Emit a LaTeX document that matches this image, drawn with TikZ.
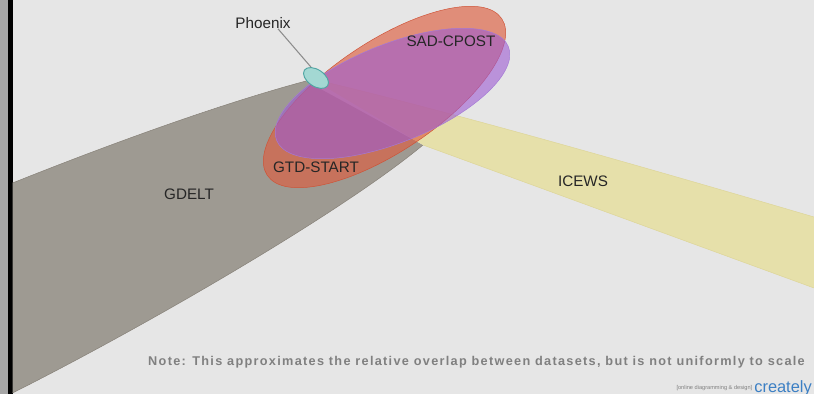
\documentclass[tikz,border=0pt]{standalone}
\usepackage{fontspec}
\setmainfont{Liberation Sans}
\usepackage{xcolor}
\usepackage{tikz}
\usetikzlibrary{shapes.geometric}

\definecolor{bgcol}{HTML}{E6E6E6}
\definecolor{gdeltcol}{HTML}{9E9A92}
\definecolor{gdeltline}{HTML}{857F76}
\definecolor{icewscol}{HTML}{E6E0AA}
\definecolor{icewsline}{HTML}{DDD597}
\definecolor{gtdcol}{HTML}{DD5E40}
\definecolor{gtdline}{HTML}{CF5236}
\definecolor{sadcol}{HTML}{9D5BD2}
\definecolor{sadline}{HTML}{A47AD6}
\definecolor{phxcol}{HTML}{A3D8D3}
\definecolor{phxline}{HTML}{4FA5A3}
\definecolor{notecol}{HTML}{808080}
\definecolor{crtcol}{HTML}{3B7FC4}

\tikzset{
  setlabel/.style={font=\fontsize{13}{15}\selectfont, text=black!85, inner sep=0pt},
}

\begin{document}
\begin{tikzpicture}[x=0.03cm,y=0.03cm]
\useasboundingbox (0,0) rectangle (814,394);
\fill[bgcol] (0,0) rectangle (814,394);
\fill[black!35] (0,0) rectangle (8,394);
\fill[black] (8,0) rectangle (12.5,394);

% GDELT
\fill[gdeltcol] (12.5,211) .. controls (110,250) and (220,290) .. (306,313)
  -- (423,249) .. controls (340,180) and (140,65) .. (12.5,1) -- cycle;
\draw[gdeltline] (12.5,211) .. controls (110,250) and (220,290) .. (306,313);
\draw[gdeltline] (423,249) .. controls (340,180) and (140,65) .. (12.5,1);

% ICEWS
\fill[icewscol] (312,315) .. controls (420,290) and (600,240) .. (814,177)
  -- (814,106) -- (423,249) -- cycle;
\draw[icewsline] (312,315) .. controls (420,290) and (600,240) .. (814,177);
\draw[icewsline] (814,106) -- (423,249);

% GTD-START and SAD-CPOST
\draw[gtdline, fill=gtdcol, fill opacity=0.65] (384.5,297) ellipse [x radius=141, y radius=55, rotate=33.75];
\draw[sadline, fill=sadcol, fill opacity=0.6] (392.5,300.5) ellipse [x radius=125, y radius=49, rotate=22];

% Phoenix
\node[ellipse, draw=phxline, fill=phxcol, line width=0.8pt, inner sep=0pt,
  minimum width=0.84cm, minimum height=0.5cm, rotate=-34] (phx) at (316,316) {};

\node[setlabel] (lblphoenix) at (263,371) {Phoenix};
\draw[black!45, line width=0.9pt] ([xshift=0.45cm]lblphoenix.south) -- (phx.north west);

\node[setlabel] (lblsad) at (451,353) {SAD-CPOST};
\node[setlabel] (lblgtd) at (316,227) {GTD-START};
\node[setlabel] (lblgdelt) at (189,200) {GDELT};
\node[setlabel] (lblicews) at (583,213) {ICEWS};

\node[anchor=west, inner sep=0pt, text=notecol, font=\fontsize{10.85}{12}\selectfont\bfseries\addfontfeature{LetterSpace=10.2}] (note) at (148,32)
  {Note: This approximates the relative overlap between datasets, but is not uniformly to scale};

\node[anchor=east, inner sep=0pt, text=crtcol, font=\fontsize{14}{14}\selectfont] (crt) at (812,6) {creately};
\node[anchor=east, inner sep=0pt, text=notecol, font=\fontsize{4.8}{5}\selectfont] (crtsub) at ([xshift=-0.05cm]crt.west) {[online diagramming \& design]};
\end{tikzpicture}
\end{document}
